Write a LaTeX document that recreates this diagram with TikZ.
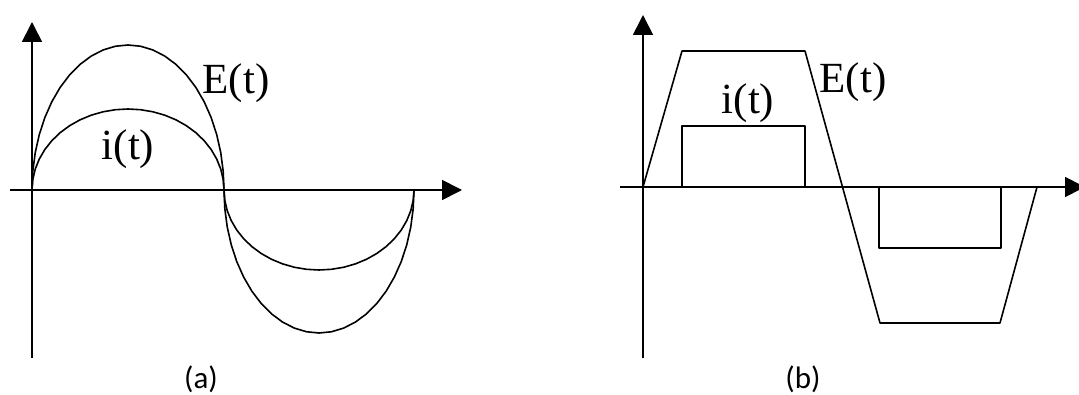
\documentclass[tikz,border=0pt]{standalone}
\usepackage{fontspec}
\setmainfont{Liberation Serif}
\newfontfamily\capfont{Carlito}
\usetikzlibrary{arrows.meta}
\begin{document}
\begin{tikzpicture}[x=1pt,y=-1pt,
  axis/.style={line width=1.7pt,-{Triangle[length=20pt,width=20pt]}},
  wave/.style={line width=1.6pt,line join=round},
  lbl/.style={font=\fontsize{43}{43}\selectfont,inner sep=0pt,anchor=base},
  captext/.style={font=\capfont\fontsize{31}{31}\selectfont,inner sep=0pt,anchor=base}]
\useasboundingbox (0,0) rectangle (1079,395);
\clip (0,0) rectangle (1079,395);
% panel (a)
\coordinate (ay0) at (32,358);
\coordinate (ay1) at (32,22);
\coordinate (ax0) at (10,190);
\coordinate (ax1) at (462,190);
\draw[axis] (ay0) -- (ay1);
\draw[axis] (ax0) -- (ax1);
\draw[wave] plot[domain=180:0,samples=25] ({128+96*cos(\x)},{190-145*sin(\x)});
\draw[wave] plot[domain=180:360,samples=25] ({319+95*cos(\x)},{190-143*sin(\x)});
\draw[wave] plot[domain=180:0,samples=25] ({128+96*cos(\x)},{190-81*sin(\x)});
\draw[wave] plot[domain=180:360,samples=25] ({319+95*cos(\x)},{190-80*sin(\x)});
\node[lbl] (ea) at (236,94) {E(t)};
\node[lbl] (ia) at (128,160) {i(t)};
\node[captext] (capa) at (201,388) {(a)};
% panel (b)
\coordinate (by0) at (643,358);
\coordinate (by1) at (643,15);
\coordinate (bx0) at (620,187);
\coordinate (bx1) at (1085,187);
\draw[axis] (by0) -- (by1);
\draw[axis] (bx0) -- (bx1);
\draw[wave] (643,187) -- (682,51) -- (805,51) -- (880,323) -- (1000,323) -- (1037,187);
\draw[wave] (682,187) rectangle (805,126);
\draw[wave] (879,187) rectangle (1001,248);
\node[lbl] (eb) at (853,93) {E(t)};
\node[lbl] (ib) at (748,114) {i(t)};
\node[captext] (capb) at (803,388) {(b)};
\end{tikzpicture}
\end{document}
